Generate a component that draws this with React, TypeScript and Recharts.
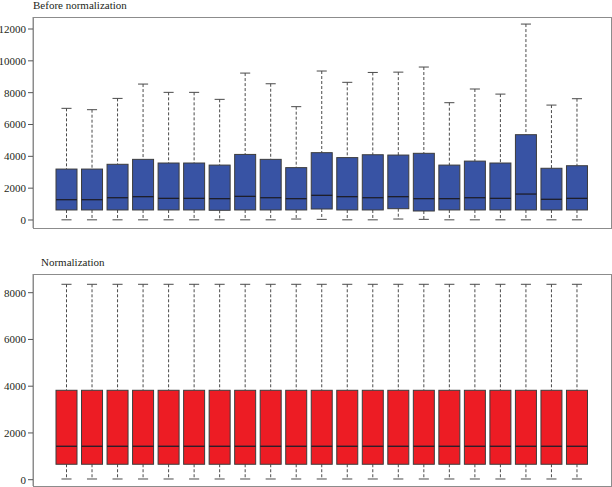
import { ComposedChart, Bar, XAxis, YAxis } from "recharts";

// 21 samples, no x labels shown in the figure
const samples = [
  "S1", "S2", "S3", "S4", "S5", "S6", "S7", "S8", "S9", "S10", "S11",
  "S12", "S13", "S14", "S15", "S16", "S17", "S18", "S19", "S20", "S21",
];

// before normalization: five-number summaries
const beforeMin = [10, 10, 10, 10, 10, 10, 10, 10, 10, 60, 40, 10, 10, 60, 40, 10, 10, 10, 10, 10, 10];
const beforeQ1 = [630, 630, 630, 630, 630, 630, 610, 630, 630, 630, 690, 630, 630, 710, 565, 630, 630, 630, 630, 630, 630];
const beforeMedian = [1275, 1275, 1400, 1465, 1360, 1360, 1340, 1485, 1400, 1340, 1550, 1465, 1400, 1465, 1340, 1340, 1400, 1360, 1630, 1300, 1360];
const beforeQ3 = [3200, 3200, 3500, 3810, 3580, 3580, 3450, 4120, 3810, 3290, 4230, 3920, 4100, 4080, 4190, 3450, 3700, 3580, 5360, 3250, 3410];
const beforeMax = [7015, 6930, 7640, 8540, 8020, 8020, 7580, 9230, 8560, 7120, 9360, 8650, 9270, 9290, 9610, 7370, 8230, 7910, 12310, 7220, 7620];

// after normalization every sample has the same summary
const normSummary = [30, 660, 1430, 3825, 8360]; // min, q1, median, q3, max

const beforeTicks = [0, 2000, 4000, 6000, 8000, 10000, 12000];
const normTicks = [0, 2000, 4000, 6000, 8000];

const beforeData = samples.map((name, i) => ({
  name,
  min: beforeMin[i],
  q1: beforeQ1[i],
  median: beforeMedian[i],
  q3: beforeQ3[i],
  max: beforeMax[i],
}));

const normData = samples.map((name) => ({
  name,
  min: normSummary[0],
  q1: normSummary[1],
  median: normSummary[2],
  q3: normSummary[3],
  max: normSummary[4],
}));

const FONT = "'Liberation Serif', 'DejaVu Serif', serif";
const FRAME = "#8c8c8c";
const EDGE = "#3c3c3c";
const WHISKER = "#4a4a4a";

// draws one box from the bar's [min, max] rectangle
function BoxShape(props: any) {
  const { x, y, width, height, payload, fill } = props;
  if (!payload || !isFinite(y) || !isFinite(height)) return null;
  const top = Math.min(y, y + height);
  const h = Math.abs(height);
  const k = h / (payload.max - payload.min);
  const py = (v: number) => top + (payload.max - v) * k;
  const cx = x + width / 2;
  const cap = width * 0.24;
  return (
    <g>
      <line x1={cx} x2={cx} y1={py(payload.max)} y2={py(payload.q3)} stroke={WHISKER} strokeDasharray="3 2" />
      <line x1={cx} x2={cx} y1={py(payload.q1)} y2={py(payload.min)} stroke={WHISKER} strokeDasharray="3 2" />
      <line x1={cx - cap} x2={cx + cap} y1={py(payload.max)} y2={py(payload.max)} stroke={WHISKER} />
      <line x1={cx - cap} x2={cx + cap} y1={py(payload.min)} y2={py(payload.min)} stroke={WHISKER} />
      <rect
        x={x}
        y={py(payload.q3)}
        width={width}
        height={py(payload.q1) - py(payload.q3)}
        fill={fill}
        stroke={EDGE}
        strokeWidth={1}
      />
      <line x1={x} x2={x + width} y1={py(payload.median)} y2={py(payload.median)} stroke="#1e1e2a" strokeWidth={1.3} />
    </g>
  );
}

function BoxPanel({
  data,
  domain,
  ticks,
  color,
  height,
  margin,
}: {
  data: any[];
  domain: [number, number];
  ticks: number[];
  color: string;
  height: number;
  margin: { top: number; right: number; bottom: number; left: number };
}) {
  return (
    <ComposedChart width={612} height={height} data={data} margin={margin}>
      <XAxis
        dataKey="name"
        padding={{ left: 21, right: 21 }}
        tick={false}
        tickLine={false}
        axisLine={false}
        height={0}
      />
      <YAxis
        type="number"
        width={33}
        domain={domain}
        ticks={ticks}
        allowDataOverflow
        interval={0}
        tickSize={5}
        tickLine={{ stroke: "#555" }}
        axisLine={{ stroke: FRAME }}
        tick={{ fontSize: 11, fill: "#231f20", fontFamily: FONT }}
      />
      <Bar
        dataKey={(d: any) => [d.min, d.max]}
        barSize={21}
        fill={color}
        shape={<BoxShape />}
        isAnimationActive={false}
      />
    </ComposedChart>
  );
}

// plot frame, drawn over the chart's plotting area
function Frame({ top, height }: { top: number; height: number }) {
  return (
    <div
      style={{
        position: "absolute",
        left: 33,
        top,
        width: 579,
        height,
        boxSizing: "border-box",
        border: `1px solid ${FRAME}`,
        pointerEvents: "none",
      }}
    />
  );
}

export default function App() {
  return (
    <div
      style={{
        position: "absolute",
        left: 0,
        top: 0,
        width: 612,
        height: 487,
        background: "#fff",
        fontFamily: FONT,
        overflow: "hidden",
      }}
    >
      <div style={{ position: "absolute", left: 33, top: 0, fontSize: 11, lineHeight: "11px", color: "#231f20" }}>
        Before normalization
      </div>
      <div style={{ position: "absolute", left: 0, top: 0 }}>
        <BoxPanel
          data={beforeData}
          domain={[-503, 12754]}
          ticks={beforeTicks}
          color="#3853a4"
          height={240}
          margin={{ top: 17, right: 1, bottom: 12, left: 0 }}
        />
      </div>
      <Frame top={17} height={212} />
      <div style={{ position: "absolute", left: 41, top: 257, fontSize: 11, lineHeight: "11px", color: "#231f20" }}>
        Normalization
      </div>
      <div style={{ position: "absolute", left: 0, top: 240 }}>
        <BoxPanel
          data={normData}
          domain={[-270, 8800]}
          ticks={normTicks}
          color="#ed1c24"
          height={247}
          margin={{ top: 34, right: 1, bottom: 1, left: 0 }}
        />
      </div>
      <Frame top={274} height={213} />
    </div>
  );
}
